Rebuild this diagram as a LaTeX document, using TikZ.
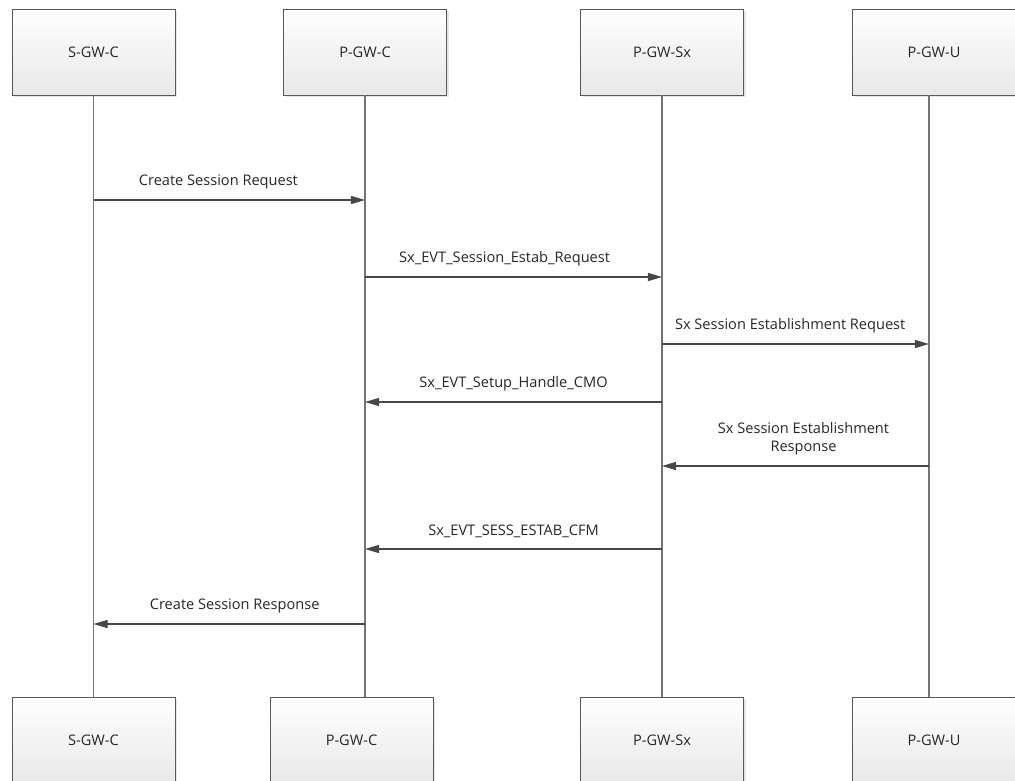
\documentclass[tikz,border=0pt]{standalone}
\usepackage{fontspec}
\setmainfont{Open Sans}
\usetikzlibrary{arrows.meta, positioning, shadows}
\tikzset{
    seqdiagram/.style={x=0.02cm, y=-0.02cm, font=\fontsize{8.3}{10.2}\selectfont, >={Triangle[length=8pt, width=4.6pt]}},
    actor/.style={draw=black!65, top color=white, bottom color=black!9, minimum width=3.26cm, minimum height=1.72cm, text=black!85,
        drop shadow={shadow xshift=1.3pt, shadow yshift=-1.3pt, opacity=0.2}},
    lifeline/.style={draw=black!55, line width=0.6pt},
    msg/.style={->, draw=black!72, line width=0.6pt},
    % message text sits above its arrow
    lbl/.style={above=2.5pt, align=center, text=black!85},
}
\begin{document}
\begin{tikzpicture}[seqdiagram]
        \useasboundingbox (0,0) rectangle (1015,781);
        \clip (0,0) rectangle (1015,781);

        % entities, top row
        \node[actor] (sgwc)   at (93.5,52) {S-GW-C};
        \node[actor] (pgwc)   at (365,52)  {P-GW-C};
        \node[actor] (pgwsx)  at (662,52)  {P-GW-Sx};
        \node[actor] (pgwu)   at (934,52)  {P-GW-U};

        % entities, bottom row
        \node[actor] (sgwcb)  at (93.5,740) {S-GW-C};
        \node[actor] (pgwcb)  at (351.5,740) {P-GW-C};
        \node[actor] (pgwsxb) at (662,740) {P-GW-Sx};
        \node[actor] (pgwub)  at (934,740) {P-GW-U};

        % the P-GW-U lifeline runs a little left of its box centre
        \coordinate (ulife) at ([xshift=-0.1cm]pgwu.south);

        % lifelines
        \draw[lifeline] (sgwc.south)  -- (sgwc.south |- sgwcb.north);
        \draw[lifeline] (pgwc.south)  -- (pgwc.south |- pgwcb.north);
        \draw[lifeline] (pgwsx.south) -- (pgwsx.south |- pgwsxb.north);
        \draw[lifeline] (ulife)       -- (ulife |- pgwub.north);

        % messages
        \draw[msg] (sgwc.south |- 0,200) -- node[lbl, pos=0.46] {Create Session Request} (pgwc.south |- 0,200);
        \draw[msg] (pgwc.south |- 0,277) -- node[lbl, pos=0.47] {Sx\_EVT\_Session\_Estab\_Request} (pgwsx.south |- 0,277);
        \draw[msg] (pgwsx.south |- 0,344) -- node[lbl, pos=0.48] {Sx Session Establishment Request} (ulife |- 0,344);
        \draw[msg] (pgwsx.south |- 0,402) -- node[lbl] {Sx\_EVT\_Setup\_Handle\_CMO} (pgwc.south |- 0,402);
        \draw[msg] (ulife |- 0,466) -- node[lbl, pos=0.47] {Sx Session Establishment\\Response} (pgwsx.south |- 0,466);
        \draw[msg] (pgwsx.south |- 0,549) -- node[lbl] {Sx\_EVT\_SESS\_ESTAB\_CFM} (pgwc.south |- 0,549);
        \draw[msg] (pgwc.south |- 0,624) -- node[lbl, pos=0.48] {Create Session Response} (sgwc.south |- 0,624);
    \end{tikzpicture}
\end{document}
